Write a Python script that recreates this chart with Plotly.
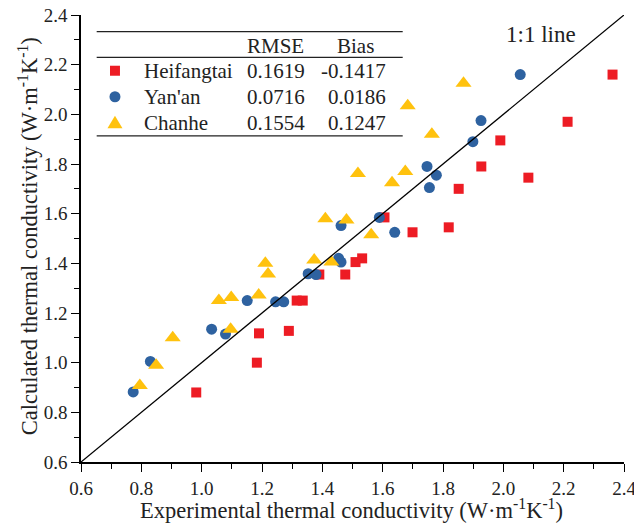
import plotly.graph_objects as go

# ---------------- data ----------------
heif_x = [0.982, 1.183, 1.19, 1.289, 1.315, 1.335, 1.39, 1.476, 1.51, 1.532,
          1.606, 1.699, 1.819, 1.852, 1.927, 1.99, 2.083, 2.213, 2.362]
heif_y = [0.88, 1.00, 1.118, 1.128, 1.25, 1.25, 1.355, 1.355, 1.405, 1.42,
          1.585, 1.525, 1.545, 1.70, 1.79, 1.895, 1.745, 1.97, 2.16]

yan_x = [0.773, 0.83, 1.033, 1.079, 1.151, 1.245, 1.272, 1.353, 1.379, 1.454,
         1.462, 1.462, 1.589, 1.64, 1.747, 1.755, 1.778, 1.899, 1.926, 2.056]
yan_y = [0.882, 1.005, 1.135, 1.115, 1.25, 1.245, 1.245, 1.358, 1.355, 1.42,
         1.405, 1.552, 1.585, 1.525, 1.79, 1.705, 1.755, 1.89, 1.975, 2.16]

chan_x = [0.795, 0.849, 0.904, 1.057, 1.096, 1.098, 1.189, 1.211, 1.22, 1.373,
          1.41, 1.43, 1.48, 1.518, 1.562, 1.631, 1.675, 1.683, 1.763, 1.868]
chan_y = [0.908, 0.99, 1.10, 1.25, 1.135, 1.262, 1.272, 1.40, 1.357, 1.413,
          1.58, 1.405, 1.575, 1.762, 1.515, 1.725, 1.77, 2.035, 1.92, 2.125]

line_x = [0.6, 2.4]
line_y = [0.6, 2.4]

names = ["Heifangtai", "Yan'an", "Chanhe"]
rmse = ["0.1619", "0.0716", "0.1554"]
bias = ["-0.1417", "0.0186", "0.1247"]
colors = ["#ED1C24", "#2E62A0", "#FFC20E"]

x_ticks = [0.6, 0.8, 1.0, 1.2, 1.4, 1.6, 1.8, 2.0, 2.2, 2.4]
y_ticks = [0.6, 0.8, 1.0, 1.2, 1.4, 1.6, 1.8, 2.0, 2.2, 2.4]

# ---------------- layout geometry ----------------
W, H = 634, 525
L, R, T, B = 81, 624.5, 15, 461.7
FONT = "Liberation Serif, Times New Roman, serif"
TXT = "#222"


def px(x):
    return (x - L) / (R - L)


def py(y):
    return (B - y) / (B - T)


fig = go.Figure()

fig.add_trace(go.Scatter(x=heif_x, y=heif_y, mode="markers", name=names[0],
                         marker=dict(symbol="square", size=10, color=colors[0],
                                     line=dict(width=0))))
fig.add_trace(go.Scatter(x=yan_x, y=yan_y, mode="markers", name=names[1],
                         marker=dict(symbol="circle", size=11, color=colors[1],
                                     line=dict(width=0))))
fig.add_trace(go.Scatter(x=chan_x, y=chan_y, mode="markers", name=names[2],
                         marker=dict(symbol="triangle-up", size=14, color=colors[2],
                                     line=dict(width=0))))
fig.add_trace(go.Scatter(x=line_x, y=line_y, mode="lines", name="1:1 line",
                         line=dict(color="black", width=1.3)))

shapes = []
annotations = []

# table rules
for yy in [31.7, 57.3, 135.7]:
    shapes.append(dict(type="line", xref="paper", yref="paper",
                       x0=px(96.7), x1=px(403), y0=py(yy), y1=py(yy),
                       line=dict(color="#222", width=1.3)))

TF = dict(family=FONT, size=21, color=TXT)
# header
annotations.append(dict(xref="paper", yref="paper", x=px(245), y=py(45.5),
                        text="RMSE", showarrow=False, xanchor="left", yanchor="middle",
                        font=TF))
annotations.append(dict(xref="paper", yref="paper", x=px(356), y=py(45.5),
                        text="Bias", showarrow=False, xanchor="center", yanchor="middle",
                        font=TF))

row_y = [70.7, 96.7, 122.7]
mx = 115
for i in range(3):
    ry = row_y[i]
    annotations.append(dict(xref="paper", yref="paper", x=px(142), y=py(ry),
                            text=names[i], showarrow=False, xanchor="left", yanchor="middle",
                            font=TF))
    annotations.append(dict(xref="paper", yref="paper", x=px(245), y=py(ry),
                            text=rmse[i], showarrow=False, xanchor="left", yanchor="middle",
                            font=TF))
    annotations.append(dict(xref="paper", yref="paper", x=px(388), y=py(ry),
                            text=bias[i], showarrow=False, xanchor="right", yanchor="middle",
                            font=TF))

# legend markers
s = 5
shapes.append(dict(type="rect", xref="paper", yref="paper",
                   x0=px(mx - s), x1=px(mx + s), y0=py(row_y[0] + s), y1=py(row_y[0] - s),
                   fillcolor=colors[0], line=dict(width=0)))
r = 5.5
shapes.append(dict(type="circle", xref="paper", yref="paper",
                   x0=px(mx - r), x1=px(mx + r), y0=py(row_y[1] + r), y1=py(row_y[1] - r),
                   fillcolor=colors[1], line=dict(width=0)))
ty = row_y[2]
path = "M {:.5f},{:.5f} L {:.5f},{:.5f} L {:.5f},{:.5f} Z".format(
    px(mx - 7.5), py(ty + 5.5), px(mx + 7.5), py(ty + 5.5), px(mx), py(ty - 7))
shapes.append(dict(type="path", xref="paper", yref="paper", path=path,
                   fillcolor=colors[2], line=dict(width=0)))

# 1:1 line label
annotations.append(dict(xref="paper", yref="paper", x=px(541), y=py(34),
                        text="1:1 line", showarrow=False, xanchor="center", yanchor="middle",
                        font=dict(family=FONT, size=23, color=TXT)))

# x-axis title
annotations.append(dict(xref="paper", yref="paper", x=px(352), y=py(509),
                        text="Experimental thermal conductivity (W·m<sup>-1</sup>K<sup>-1</sup>)",
                        showarrow=False, xanchor="center", yanchor="middle",
                        font=dict(family=FONT, size=22.5, color=TXT)))
# y-axis title
annotations.append(dict(xref="paper", yref="paper", x=px(28), y=py(236),
                        text="Calculated thermal conductivity (W·m<sup>-1</sup>K<sup>-1</sup>)",
                        showarrow=False, xanchor="center", yanchor="middle", textangle=-90,
                        font=dict(family=FONT, size=22.5, color=TXT)))

axis_common = dict(
    showgrid=False, zeroline=False, showline=True, linecolor="black", linewidth=1.5,
    ticks="outside", ticklen=8, tickwidth=1.3, tickcolor="black",
    tickfont=dict(family=FONT, size=19, color=TXT),
    minor=dict(ticks="outside", ticklen=5, tickwidth=1.2, tickcolor="black", dtick=0.1,
               showgrid=False),
    mirror=False,
    automargin=False,
    ticklabeloverflow="allow",
)

fig.update_layout(
    width=W, height=H,
    margin=dict(l=L, r=W - R, t=T, b=H - B, pad=0, autoexpand=False),
    paper_bgcolor="white", plot_bgcolor="white",
    showlegend=False,
    xaxis=dict(range=[0.6, 2.4], tickvals=x_ticks, ticktext=["%.1f" % v for v in x_ticks],
               **axis_common),
    yaxis=dict(range=[0.6, 2.4], tickvals=y_ticks, ticktext=["%.1f" % v for v in y_ticks],
               **axis_common),
    shapes=shapes,
    annotations=annotations,
)

fig.write_html("out.html", config={"displayModeBar": False},
               post_script="document.body.style.margin='0';document.body.style.overflow='hidden';")
